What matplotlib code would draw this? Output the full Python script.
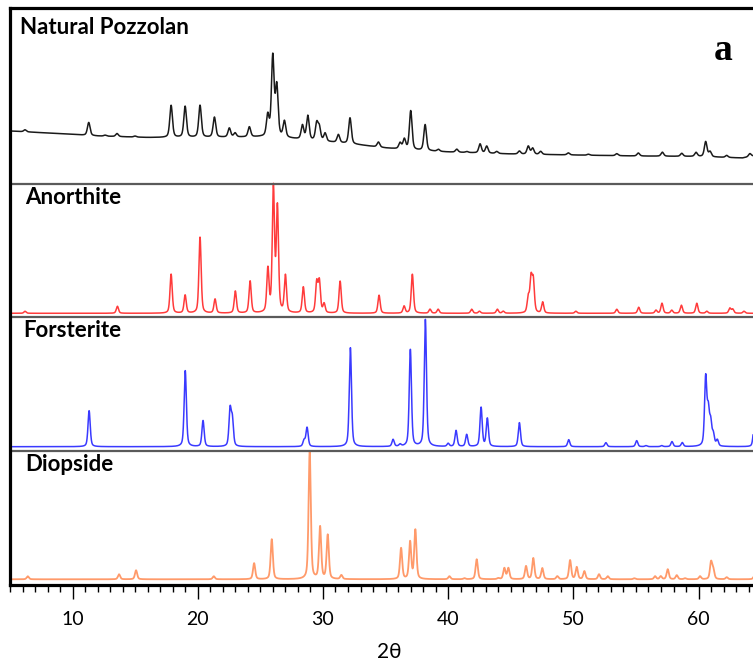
import numpy as np
import matplotlib
matplotlib.use("Agg")
import matplotlib.pyplot as plt
from matplotlib.ticker import MultipleLocator

# ---------------- data ----------------
panel_labels = ["Natural Pozzolan", "Anorthite", "Forsterite", "Diopside"]
x_major_ticks = [10, 20, 30, 40, 50, 60]

# Natural Pozzolan: peak positions (2θ) and heights above local background
np_pos = [6.2, 11.29, 12.6, 13.55, 14.99, 17.87, 18.99, 20.18, 21.33, 22.52, 22.98,
          24.12, 25.59, 25.99, 26.31, 26.92, 28.36, 28.79, 29.5, 29.71, 30.17, 31.23,
          32.16, 34.43, 36.16, 36.5, 37.01, 38.16, 39.22, 40.69, 41.49, 42.55, 43.08,
          43.88, 45.69, 46.4, 46.75, 47.39, 49.6, 51.2, 53.47, 55.19, 57.11, 58.66,
          59.8, 60.57, 60.92, 62.25, 64.1]
np_int = [2, 13, 1, 3, 1, 32, 31, 32, 20, 9, 4,
          10, 21, 80, 50, 16, 14, 24, 17, 13, 8, 8,
          26, 5, 6, 10, 39, 26, 2, 3, 1, 9, 7,
          2, 3, 8, 6, 3, 2, 1, 2, 3, 4, 3,
          4, 15, 5, 2, 3]
# Natural Pozzolan background (2θ, level)
np_bg_pos = [5.0, 8, 12, 16, 20, 25, 27, 29, 31, 33, 35, 37, 40, 45, 50, 55, 60, 63.5, 64.35]
np_bg_int = [28, 26, 23, 21.5, 21.5, 22, 21, 18.5, 16.5, 14, 11, 9, 7, 5, 4, 3, 2.5, 1, 3]

anor_pos = [6.2, 13.58, 17.87, 18.99, 20.18, 21.38, 23.0, 24.18, 25.6, 26.04, 26.36,
            27.0, 28.43, 29.5, 29.71, 30.09, 31.37, 34.48, 36.48, 37.14, 38.55, 39.2,
            41.88, 42.5, 43.93, 44.4, 46.4, 46.62, 46.8, 47.55, 50.2, 53.47, 55.22,
            56.6, 57.08, 57.86, 58.63, 59.86, 60.66, 62.5, 62.73, 63.63]
anor_int = [2, 7, 39, 18, 76, 14, 22, 32, 43, 124, 104,
            37, 26, 30, 31, 9, 32, 18, 7, 39, 4, 4,
            4, 2, 4, 2, 15, 33, 31, 11, 2, 4, 6,
            3, 10, 3, 8, 10, 2, 5, 4, 2]

fors_pos = [11.32, 19.0, 20.42, 22.58, 22.76, 28.49, 28.73, 32.19, 35.6, 36.16, 36.98,
            38.18, 40.0, 40.63, 41.48, 42.63, 43.13, 45.69, 49.63, 52.6, 55.06, 55.8,
            57.06, 57.88, 58.7, 60.57, 60.78, 60.97, 61.18, 61.5, 64.45]
fors_int = [36, 76, 26, 36, 26, 6, 19, 99, 7, 2, 97,
            127, 3, 16, 12, 39, 28, 24, 7, 4, 6, 1,
            1, 5, 4, 68, 33, 22, 11, 6, 22]

diop_pos = [6.42, 13.71, 15.07, 21.28, 24.5, 25.91, 28.94, 29.77, 30.38, 31.47, 36.24,
            36.96, 37.38, 40.1, 41.3, 42.28, 44.0, 44.49, 44.81, 46.22, 46.8, 47.52,
            48.72, 49.74, 50.27, 50.88, 52.05, 52.75, 54.87, 56.53, 56.98, 57.54, 58.26,
            58.92, 60.12, 61.0, 61.18, 62.25, 64.5]
diop_int = [3, 5, 9, 3, 16, 40, 128, 52, 44, 4, 31,
            37, 49, 3, 1, 20, 1, 11, 11, 13, 21, 11,
            3, 19, 12, 8, 5, 3, 1, 3, 3, 10, 4,
            1, 3, 17, 9, 2, 6]

# ---------------- styling / layout ----------------
W, H = 753, 664
fig = plt.figure(figsize=(W / 100, H / 100), dpi=100)
ax_left, ax_bottom, ax_top = 10, 585, 8
ax = fig.add_axes([ax_left / W, 1 - ax_bottom / H, 1 - ax_left / W, (ax_bottom - ax_top) / H])

xmin, xmax = 5.0, 64.35
ax.set_xlim(xmin, xmax)
ax.set_ylim(0, ax_bottom - ax_top)

x = np.linspace(xmin, xmax, 6000)


def pattern(pos, inten, fwhm, eta=0.45):
    y = np.zeros_like(x)
    for p, h in zip(pos, inten):
        d = (x - p) / (fwhm / 2)
        y += h * (eta / (1 + d ** 2) + (1 - eta) * np.exp(-np.log(2) * d ** 2))
    return y


offsets = [426, 271.7, 138.3, 5.7]
separators = [401, 268, 134.5]

y_np = np.interp(x, np_bg_pos, np_bg_int) + pattern(np_pos, np_int, 0.25)
y_an = pattern(anor_pos, anor_int, 0.21)
y_fo = pattern(fors_pos, fors_int, 0.21)
y_di = pattern(diop_pos, diop_int, 0.21)

ax.plot(x, y_np + offsets[0], color="#1a1a1a", lw=1.1)
ax.plot(x, y_an + offsets[1], color="#ff3b3b", lw=1.1)
ax.plot(x, y_fo + offsets[2], color="#3a3aff", lw=1.1)
ax.plot(x, y_di + offsets[3], color="#ff9a6a", lw=1.3)

for s in separators:
    ax.axhline(s, color="#5a5a5a", lw=1.6)

for side in ["left", "top", "bottom"]:
    ax.spines[side].set_linewidth(2.3)
    ax.spines[side].set_color("black")
ax.spines["right"].set_visible(False)

ax.set_yticks([])
ax.set_xticks(x_major_ticks)
ax.xaxis.set_minor_locator(MultipleLocator(1))
ax.tick_params(axis="x", which="major", length=10, width=1.0, direction="out",
               pad=9, labelsize=14)
ax.tick_params(axis="x", which="minor", length=5, width=1.0, direction="out")
for lab in ax.get_xticklabels():
    lab.set_family(["Lato", "DejaVu Sans"])

fig.text(389 / W, 1 - 658 / H, "2θ", family=["Lato", "DejaVu Sans"], fontsize=15,
         ha="center", va="baseline")

label_pos = [(20.5, 34), (25, 204.3), (23.3, 337.3), (25, 471)]
for lab, (px, py) in zip(panel_labels, label_pos):
    fig.text(px / W, 1 - py / H, lab, family=["Lato", "DejaVu Sans"], fontweight="bold",
             fontsize=16, ha="left", va="baseline")

fig.text(723 / W, 1 - 60 / H, "a", family=["Liberation Serif", "DejaVu Serif"],
         fontweight="bold", fontsize=27, ha="center", va="baseline")

fig.savefig("out.png", dpi=100)
